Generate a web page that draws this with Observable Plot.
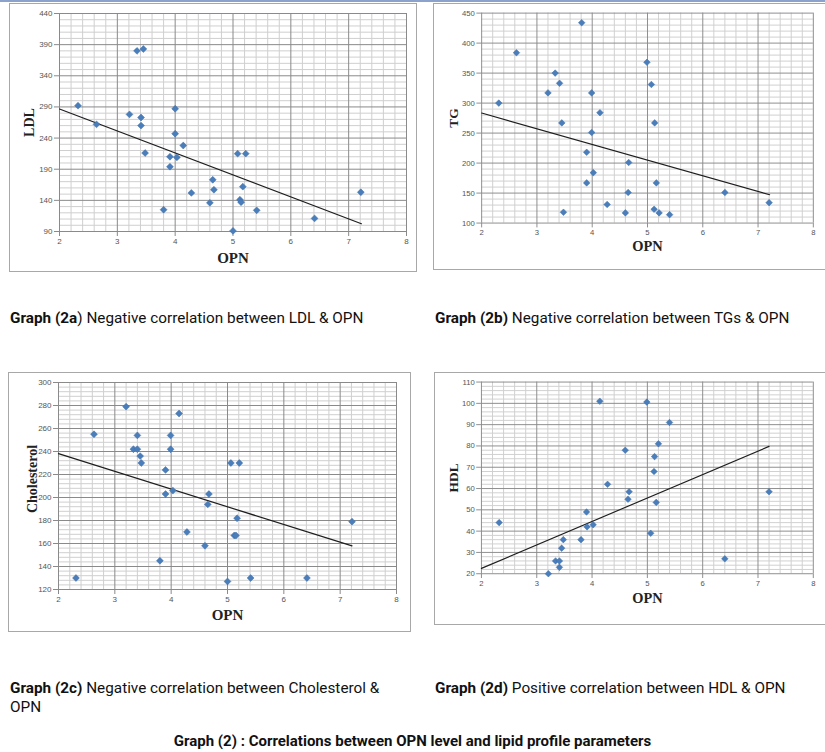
<!DOCTYPE html>
<html>
<head>
<meta charset="utf-8">
<script src="https://cdn.jsdelivr.net/npm/d3@7"></script>
<script src="https://cdn.jsdelivr.net/npm/@observablehq/plot@0.6"></script>
<style>
  html, body { margin: 0; padding: 0; background: #fff; }
  #page { position: relative; width: 825px; height: 752px; overflow: hidden; background: #fff; }
  .topbar { position: absolute; left: 0; top: 0; width: 825px; height: 2px; background: #8aa2cc; }
  .box { position: absolute; border: 1px solid #a8a8a8; box-sizing: border-box; }
  .panel { position: absolute; }
  .cap { position: absolute; font-family: Roboto, "Liberation Sans", sans-serif; font-size: 15.3px; line-height: 19px; color: #111; white-space: nowrap; }
  .cap b { font-weight: 700; }
  .title { position: absolute; left: 0; width: 825px; text-align: center; font-family: Roboto, "Liberation Sans", sans-serif; font-weight: 700; font-size: 15px; line-height: 18px; color: #111; }
</style>
</head>
<body>
<div id="page">
  <div class="topbar"></div>
  <div class="box" style="left:9px;top:3px;width:408px;height:269px"></div>
  <div class="box" style="left:433px;top:3px;width:407px;height:267px"></div>
  <div class="box" style="left:8px;top:372px;width:403px;height:260px"></div>
  <div class="box" style="left:434px;top:372px;width:408px;height:253px"></div>
  <div class="panel" id="p1" style="left:9px;top:3px"></div>
  <div class="panel" id="p2" style="left:433px;top:3px"></div>
  <div class="panel" id="p3" style="left:8px;top:372px"></div>
  <div class="panel" id="p4" style="left:434px;top:372px"></div>
  <div class="cap" style="left:10px;top:309px"><b>Graph (2a</b>) Negative correlation between LDL &amp; OPN</div>
  <div class="cap" style="left:435px;top:309px"><b>Graph (2b)</b> Negative correlation between TGs &amp; OPN</div>
  <div class="cap" style="left:10px;top:679px"><b>Graph (2c)</b> Negative correlation between Cholesterol &amp;<br>OPN</div>
  <div class="cap" style="left:435px;top:679px"><b>Graph (2d)</b> Positive correlation between HDL &amp; OPN</div>
  <div class="title" style="top:732px">Graph (2) : Correlations between OPN level and lipid profile parameters</div>
</div>
<script>
// ---- Data ----
const xTicks = [2, 3, 4, 5, 6, 7, 8];

const ldlOPN = [2.32, 2.64, 3.21, 3.34, 3.45, 3.41, 3.41, 3.48, 3.80, 3.91, 3.91, 4.00, 4.00, 4.03, 4.14, 4.28, 4.60, 4.65, 4.67, 5.00, 5.08, 5.22, 5.12, 5.14, 5.17, 5.41, 6.41, 7.21];
const ldlVal = [292, 262, 278, 380, 383, 273, 260, 216, 125, 210, 194, 287, 247, 209, 228, 152, 136, 173, 157, 91, 215, 215, 141, 137, 162, 124, 111, 153];
const ldlTrendX = [2, 7.22];
const ldlTrendY = [286.6, 102.5];
const ldlTicks = [90, 140, 190, 240, 290, 340, 390, 440];

const tgOPN = [2.31, 2.63, 3.20, 3.33, 3.41, 3.45, 3.48, 3.81, 3.90, 3.90, 3.99, 3.99, 4.02, 4.14, 4.27, 4.60, 4.65, 4.66, 4.99, 5.07, 5.13, 5.12, 5.16, 5.21, 5.40, 6.40, 7.20];
const tgVal = [300, 384, 317, 350, 333, 267, 118, 434, 218, 167, 317, 251, 184, 284, 131, 117, 151, 201, 368, 331, 267, 123, 167, 117, 114, 151, 134];
const tgTrendX = [2, 7.21];
const tgTrendY = [283.4, 147.3];
const tgTicks = [100, 150, 200, 250, 300, 350, 400, 450];

const cholOPN = [2.31, 2.63, 3.20, 3.33, 3.40, 3.40, 3.45, 3.47, 3.80, 3.90, 3.90, 3.99, 3.99, 4.03, 4.14, 4.28, 4.60, 4.65, 4.67, 5.00, 5.06, 5.21, 5.12, 5.15, 5.17, 5.41, 6.41, 7.21];
const cholVal = [130, 255, 279, 242, 242, 254, 236, 230, 145, 224, 203, 254, 242, 206, 273, 170, 158, 194, 203, 127, 230, 230, 167, 167, 182, 130, 130, 179];
const cholTrendX = [2, 7.21];
const cholTrendY = [238.1, 157.9];
const cholTicks = [120, 140, 160, 180, 200, 220, 240, 260, 280, 300];

const hdlOPN = [2.32, 3.21, 3.34, 3.41, 3.41, 3.45, 3.48, 3.80, 3.90, 3.91, 4.02, 4.14, 4.28, 4.60, 4.65, 4.67, 4.99, 5.06, 5.12, 5.13, 5.16, 5.20, 5.40, 6.40, 7.20];
const hdlVal = [44, 20, 26, 26, 23, 32, 36, 36, 49, 42, 43, 101, 62, 78, 55, 58.5, 100.6, 39, 68, 75, 53.5, 81, 91, 27, 58.5];
const hdlTrendX = [2, 7.2];
const hdlTrendY = [22.5, 79.8];
const hdlTicks = [20, 30, 40, 50, 60, 70, 80, 90, 100, 110];

// ---- Drawing ----
function minorTicks(major, parts) {
  const out = [];
  for (let i = 0; i < major.length - 1; i++) {
    const a = major[i], b = major[i + 1];
    for (let k = 1; k < parts; k++) out.push(a + (b - a) * k / parts);
  }
  return out;
}

function panel(cfg) {
  const pts = cfg.xs.map((x, i) => ({x, y: cfg.ys[i]}));
  const trend = cfg.tx.map((x, i) => ({x, y: cfg.ty[i]}));
  const yMinor = minorTicks(cfg.yTicks, 5);
  const xMinor = minorTicks(xTicks, 5);
  const chart = Plot.plot({
    width: cfg.width,
    height: cfg.height,
    marginLeft: cfg.ml,
    marginRight: cfg.mr,
    marginTop: cfg.mt,
    marginBottom: cfg.mb,
    x: {domain: [2, 8]},
    y: {domain: [cfg.yTicks[0], cfg.yTicks[cfg.yTicks.length - 1]]},
    style: {fontFamily: "'Liberation Sans', Arial, sans-serif", fontSize: "8px", color: "#555", background: "transparent", overflow: "visible"},
    marks: [
      Plot.gridX(xMinor, {stroke: "#cfcfcf", strokeOpacity: 1, strokeWidth: 1}),
      Plot.gridY(yMinor, {stroke: "#cfcfcf", strokeOpacity: 1, strokeWidth: 1}),
      Plot.gridY(cfg.yTicks, {stroke: "#8a8a8a", strokeOpacity: 1, strokeWidth: 1}),
      Plot.gridX(xTicks, {stroke: "#8a8a8a", strokeOpacity: 1, strokeWidth: 1}),
      Plot.axisX({ticks: xTicks, tickFormat: d => String(d), tickSize: 5, tickPadding: 2, label: null, stroke: "#8a8a8a"}),
      Plot.axisY({ticks: cfg.yTicks, tickFormat: d => String(d), tickSize: 5, tickPadding: 2, label: null, stroke: "#8a8a8a"}),
      Plot.line(trend, {x: "x", y: "y", stroke: "#1e1e1e", strokeWidth: 1.2}),
      Plot.dot(pts, {x: "x", y: "y", symbol: "diamond2", r: 3.1, fill: "#4a7ebb", stroke: "#3d6da8", strokeWidth: 0.5}),
      Plot.text(["OPN"], {frameAnchor: "bottom", dy: cfg.xLabDy, text: d => d, fontFamily: "'Liberation Serif', 'Times New Roman', serif", fontWeight: "bold", fontSize: 15, fill: "#222", lineAnchor: "middle"}),
      Plot.text([cfg.yLabel], {frameAnchor: "left", dx: cfg.yLabDx, dy: cfg.yLabDy || 0, rotate: -90, text: d => d, fontFamily: "'Liberation Serif', 'Times New Roman', serif", fontWeight: "bold", fontSize: 14, fill: "#222", lineAnchor: "middle", textAnchor: "middle"})
    ]
  });
  document.getElementById(cfg.id).appendChild(chart);
}

panel({id: "p1", xs: ldlOPN, ys: ldlVal, tx: ldlTrendX, ty: ldlTrendY, yTicks: ldlTicks, yLabel: "LDL",
  width: 408, height: 269, ml: 50, mr: 11, mt: 10, mb: 41, xLabDy: 27, yLabDx: -30});
panel({id: "p2", xs: tgOPN, ys: tgVal, tx: tgTrendX, ty: tgTrendY, yTicks: tgTicks, yLabel: "TG",
  width: 407, height: 267, ml: 50, mr: 12.6, mt: 10, mb: 39, xLabDy: 24, yLabDx: -29});
panel({id: "p3", xs: cholOPN, ys: cholVal, tx: cholTrendX, ty: cholTrendY, yTicks: cholTicks, yLabel: "Cholesterol",
  width: 403, height: 260, ml: 50, mr: 15, mt: 10, mb: 43, xLabDy: 26, yLabDx: -26, yLabDy: -7});
panel({id: "p4", xs: hdlOPN, ys: hdlVal, tx: hdlTrendX, ty: hdlTrendY, yTicks: hdlTicks, yLabel: "HDL",
  width: 408, height: 253, ml: 49, mr: 12.7, mt: 10, mb: 43, xLabDy: 26, yLabDx: -29});
</script>
</body>
</html>
